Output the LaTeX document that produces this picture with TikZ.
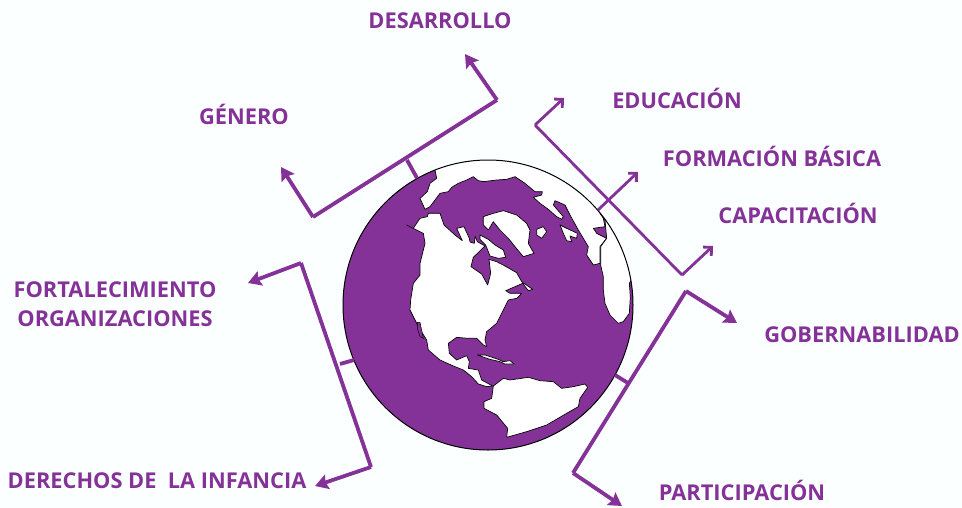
\documentclass[tikz,border=0pt]{standalone}
\usepackage{fontspec}
\setmainfont{Open Sans}
\usetikzlibrary{arrows.meta}
\definecolor{pur}{HTML}{853298}
\definecolor{bgc}{HTML}{FBFFFF}
\tikzset{
 x=1pt,y=-1pt,
 lab/.style={text=pur,font=\fontsize{21.8}{29.5}\selectfont\bfseries,inner sep=0pt,anchor=center,align=center},
 thick line/.style={draw=pur,line width=3.8pt,line join=miter,-{Stealth[length=13pt,width=15pt,inset=2pt]}},
 thin line/.style={draw=pur,line width=2.8pt,line join=miter,-{Straight Barb[length=6pt,width=12pt,line width=2.8pt]}},
 plain thick/.style={draw=pur,line width=3.8pt},
 plain thin/.style={draw=pur,line width=2.8pt},
 land/.style={fill=white,draw=black,line width=0.7pt,line join=round},
}
\begin{document}
\begin{tikzpicture}
\useasboundingbox[fill=bgc] (0,0) rectangle (962,507);
% labels
\node[lab] (des) at (440,20.5) {DESARROLLO};
\node[lab] (gen) at (244,114) {GÉNERO};
\node[lab] (edu) at (677,98) {EDUCACIÓN};
\node[lab] (for) at (772,156) {FORMACIÓN BÁSICA};
\node[lab] (cap) at (798,213.5) {CAPACITACIÓN};
\node[lab] (gob) at (862,335) {GOBERNABILIDAD};
\node[lab] (par) at (742,490) {PARTICIPACIÓN};
\node[lab,align=center] (fort) at (115,304) {FORTALECIMIENTO\\ORGANIZACIONES};
\node[lab] (der) at (157,480.5) {DERECHOS DE\ \ LA INFANCIA};
% coordinates of the brackets
\coordinate (a1) at (497,100);
\coordinate (a2) at (313,217);
\coordinate (a3) at (465,54);
\coordinate (a4) at (281,167);
\coordinate (a5) at (407,160);
\coordinate (a6) at (417,178);
\coordinate (b1) at (535,125);
\coordinate (b2) at (682,275);
\coordinate (b3) at (564,98);
\coordinate (b4) at (713,246);
\coordinate (b5) at (598,210);
\coordinate (b6) at (638,172);
\coordinate (c1) at (686,291);
\coordinate (c2) at (573,473);
\coordinate (c3) at (737,323);
\coordinate (c4) at (622,506);
\coordinate (c5) at (628,383);
\coordinate (c6) at (615,375);
\coordinate (d1) at (301,263);
\coordinate (d2) at (371,467);
\coordinate (d3) at (248,283);
\coordinate (d4) at (315,486);
\coordinate (d5) at (340,364);
\coordinate (d6) at (354,360);
% globe
\node[circle,minimum size=290pt,inner sep=0pt,fill=pur] (globe) at (488,305) {};
\begin{scope}
\clip (488,305) circle[radius=145];
\begin{scope}[shift={(340,150)},scale=1/3]
% arctic cap
\draw[land] (285,60) -- (290,85) -- (270,100) -- (262,125) -- (240,145) -- (255,178) -- (270,170) -- (285,150) -- (300,130) -- (325,125) -- (335,112) -- (355,100) -- (380,90) -- (400,80) -- (415,92) -- (430,95) -- (470,90) -- (500,88) -- (525,80) -- (555,100) -- (585,125) -- (607,125) -- (605,135) -- (580,142) -- (600,160) -- (625,178) -- (650,200) -- (665,208) -- (670,200) -- (640,165) -- (645,152) -- (675,165) -- (690,195) -- (715,240) -- (745,290) -- (740,315) -- (760,345) -- (780,340) -- (780,290) -- (800,265) -- (770,250) -- (760,235) -- (795,230) -- (790,205) -- (770,175) -- (800,100) -- (450,-20) -- (250,20) -- cycle;
% Africa
\draw[land] (795,210) -- (800,265) -- (782,290) -- (782,345) -- (790,380) -- (790,420) -- (795,460) -- (810,495) -- (835,520) -- (850,515) -- (868,490) -- (871,440) -- (868,400) -- (920,300) -- (830,190) -- cycle;
% North America
\draw[land] (200,225) -- (220,235) -- (240,205) -- (262,200) -- (265,190) -- (300,190) -- (312,225) -- (345,255) -- (367,272) -- (350,235) -- (372,230) -- (388,265) -- (390,276) -- (403,280) -- (405,258) -- (412,275) -- (435,288) -- (400,322) -- (393,350) -- (425,372) -- (443,405) -- (452,370) -- (447,328) -- (470,335) -- (495,348) -- (530,368) -- (545,395) -- (578,418) -- (565,422) -- (548,400) -- (525,410) -- (497,422) -- (510,430) -- (545,430) -- (530,445) -- (505,450) -- (490,480) -- (470,520) -- (440,545) -- (435,570) -- (440,590) -- (430,585) -- (410,565) -- (385,565) -- (350,562) -- (325,580) -- (328,610) -- (350,630) -- (380,617) -- (388,635) -- (385,655) -- (415,660) -- (425,690) -- (458,708) -- (440,710) -- (415,702) -- (395,680) -- (370,660) -- (340,648) -- (300,630) -- (265,600) -- (260,570) -- (235,530) -- (210,480) -- (212,450) -- (220,400) -- (240,375) -- (240,340) -- (255,280) -- (250,250) -- (230,240) -- cycle;
% Gulf of California
\draw[fill=pur,draw=black,line width=0.5pt] (232,517) -- (240,517) -- (250,565) -- (240,560) -- (232,535) -- cycle;
% South America
\draw[land] (460,708) -- (490,685) -- (510,690) -- (565,682) -- (600,692) -- (640,695) -- (665,715) -- (700,710) -- (735,702) -- (743,712) -- (720,745) -- (715,770) -- (680,790) -- (620,825) -- (560,845) -- (500,862) -- (503,835) -- (470,795) -- (432,775) -- (432,755) -- (455,745) -- cycle;
% Caribbean
\draw[land] (412,615) -- (435,615) -- (475,628) -- (490,635) -- (510,632) -- (523,642) -- (495,642) -- (480,635) -- (450,628) -- cycle;
% Arctic islands
\draw[land] (420,255) -- (445,268) -- (465,285) -- (490,300) -- (497,322) -- (475,325) -- (450,318) -- (437,285) -- (420,268) -- cycle;
\draw[land] (430,200) -- (460,190) -- (490,182) -- (530,195) -- (560,220) -- (570,240) -- (565,280) -- (582,310) -- (550,320) -- (525,290) -- (505,265) -- (480,240) -- (460,215) -- (445,240) -- (430,225) -- cycle;
\draw[land] (590,238) -- (610,230) -- (620,245) -- (605,265) -- (590,255) -- cycle;
\draw[land] (660,225) -- (680,235) -- (712,250) -- (710,265) -- (690,258) -- (695,275) -- (680,272) -- (670,250) -- cycle;
\end{scope}
\end{scope}
\draw[black,line width=1pt] (488,305) circle[radius=145];
% brackets
\draw[thick line] (a1) -- (a3);
\draw[thick line] (a2) -- (a4);
\draw[plain thick] (a1) -- (a2);
\draw[plain thick] (a5) -- (a6);
\draw[thin line] (b1) -- (b3);
\draw[thin line] (b2) -- (b4);
\draw[plain thin] (b1) -- (b2);
\draw[thin line] (b5) -- (b6);
\draw[thick line] (c1) -- (c3);
\draw[thick line] (c2) -- (c4);
\draw[plain thick] (c1) -- (c2);
\draw[plain thick] (c5) -- (c6);
\draw[thick line] (d1) -- (d3);
\draw[thick line] (d2) -- (d4);
\draw[plain thick] (d1) -- (d2);
\draw[plain thick] (d5) -- (d6);
\end{tikzpicture}
\end{document}
